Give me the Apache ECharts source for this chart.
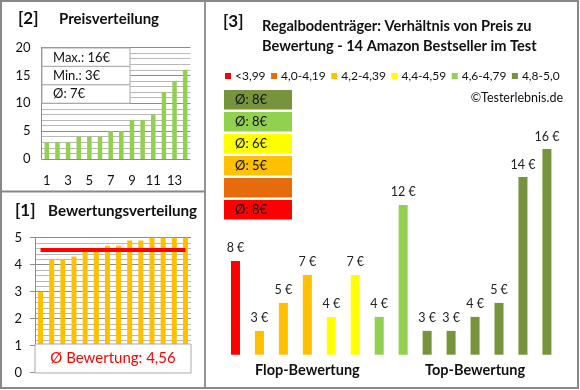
<!DOCTYPE html>
<html><head><meta charset="utf-8">
<script src="https://cdn.jsdelivr.net/npm/echarts@6/dist/echarts.min.js"></script>
<style>html,body{margin:0;padding:0;background:#fff}#c{width:580px;height:390px}</style>
</head><body><div id="c"></div>
<script>
// ---- data ----
const productIdx = ['1','2','3','4','5','6','7','8','9','10','11','12','13','14'];
const pricesSorted = [3,3,3,4,4,4,5,5,7,7,8,12,14,16];
const priceStats = ['Max.: 16€','Min.: 3€','Ø: 7€'];
const ratingsSorted = [3,4.2,4.2,4.3,4.5,4.5,4.7,4.7,4.9,4.9,5,5,5,5];
const avgRating = 4.56;
const avgRatingLabel = 'Ø Bewertung: 4,56';
const bucketNames = ['<3,99','4,0-4,19','4,2-4,39','4,4-4,59','4,6-4,79','4,8-5,0'];
const bucketColors = ['#FF0000','#E46C0A','#FFC000','#FFFF00','#92D050','#77933C'];
const pricesByRating = [8,3,5,7,4,7,4,12,3,3,4,5,14,16];
const bucketOfProduct = [0,2,2,2,3,3,4,4,5,5,5,5,5,5];
const bucketAvgLabels = ['Ø: 8€','','Ø: 5€','Ø: 6€','Ø: 8€','Ø: 8€'];
const groupLabels = ['Flop-Bewertung','Top-Bewertung'];
const title3 = ['Regalbodenträger: Verhältnis von Preis zu','Bewertung - 14 Amazon Bestseller im Test'];

const FONT = 'Lato';
const chart = echarts.init(document.getElementById('c'), null, {renderer:'canvas'});

const series3 = bucketNames.map((name, b) => ({
  name, type:'bar', xAxisIndex:2, yAxisIndex:2, stack:'r', barWidth:9,
  itemStyle:{color:bucketColors[b]},
  label:{show:true, position:'top', distance:6, formatter:'{c} €', fontFamily:FONT, fontSize:12.5, color:'#222'},
  data: pricesByRating.map((p,i) => bucketOfProduct[i] === b ? p : '-')
}));

const graphics = [];
// frames
graphics.push({type:'rect', shape:{x:1,y:1,width:577,height:387}, style:{fill:'none', stroke:'#888', lineWidth:2}, z:200});
graphics.push({type:'line', shape:{x1:205,y1:1,x2:205,y2:388}, style:{stroke:'#888', lineWidth:1.8}, z:200});
graphics.push({type:'line', shape:{x1:1,y1:191.5,x2:205,y2:191.5}, style:{stroke:'#888', lineWidth:1.8}, z:200});
// titles
const tt = (text,x,y,size,extra) => Object.assign({type:'text', x, y, z:150, style:{text, fontFamily:FONT, fontSize:size, fontWeight:'bold', fill:'#111', textVerticalAlign:'middle'}}, extra||{});
graphics.push(tt('[2]',18,19,17));
graphics.push(tt('Preisverteilung',59,19,15));
graphics.push(tt('[1]',15,211,17));
graphics.push(tt('Bewertungsverteilung',48,211,15.2));
graphics.push(tt('[3]',223,22,17));
graphics.push(tt(title3[0],262,26,14.6));
graphics.push(tt(title3[1],262,46,14.6));
graphics.push({type:'text', x:563, y:98, z:150, style:{text:'©Testerlebnis.de', fontFamily:FONT, fontSize:12.5, fill:'#111', textAlign:'right', textVerticalAlign:'middle'}});
// price stats box
priceStats.forEach((s,i) => {
  const y0 = 48 + i*18.4;
  graphics.push({type:'rect', shape:{x:42,y:y0,width:88,height:18.4}, style:{fill:'#fff', stroke:'#aaa', lineWidth:1}, z:120});
  graphics.push({type:'text', x:53, y:y0+9.5, z:121, style:{text:s, fontFamily:FONT, fontSize:13, fill:'#111', textVerticalAlign:'middle'}});
});
// rating average box
graphics.push({type:'rect', shape:{x:35,y:344,width:156,height:29}, style:{fill:'#fff', stroke:'#aaa', lineWidth:1}, z:120});
graphics.push({type:'text', x:113, y:358.5, z:121, style:{text:avgRatingLabel, fontFamily:FONT, fontSize:15, fill:'#FF0000', textAlign:'center', textVerticalAlign:'middle'}});
// bucket average boxes (top = best bucket)
for (let k=0;k<6;k++){
  const b = 5-k;
  const y0 = 90 + k*22;
  graphics.push({type:'rect', shape:{x:224,y:y0,width:68,height:19.5}, style:{fill:bucketColors[b]}, z:110});
  if (bucketAvgLabels[b]) graphics.push({type:'text', x:235, y:y0+10, z:111, style:{text:bucketAvgLabels[b], fontFamily:FONT, fontSize:13, fill:'#111', textVerticalAlign:'middle'}});
}

const option = {
  animation:false,
  textStyle:{fontFamily:FONT},
  legend:{data:bucketNames, left:220, top:65, width:370, padding:[5,0,5,5], icon:'rect', itemWidth:6, itemHeight:6, itemGap:5.5,
    textStyle:{fontFamily:FONT, fontSize:12, color:'#111', padding:[0,0,0,-1]}},
  grid:[
    {left:41.5, top:47.5, width:149, height:111.5},
    {left:35, top:237.7, width:156, height:135},
    {left:223.5, top:135, width:335.4, height:219.7}
  ],
  xAxis:[
    {gridIndex:0, type:'category', data:productIdx, axisLine:{show:false}, axisTick:{show:false},
      axisLabel:{interval:1, margin:15, fontFamily:FONT, fontSize:13, color:'#111'}},
    {gridIndex:1, type:'category', data:productIdx, axisLine:{show:false}, axisTick:{show:false}, axisLabel:{show:false}},
    {gridIndex:2, type:'category', data:productIdx, axisLine:{show:false}, axisTick:{show:false}, axisLabel:{show:false}},
    {gridIndex:2, type:'category', data:groupLabels, position:'bottom', axisLine:{show:false}, axisTick:{show:false},
      axisLabel:{margin:8, fontFamily:FONT, fontSize:14.5, fontWeight:'bold', color:'#111'}}
  ],
  yAxis:[
    {gridIndex:0, type:'value', min:0, max:20, interval:5,
      axisLine:{show:true, lineStyle:{color:'#8c8c8c'}}, axisTick:{show:false},
      axisLabel:{margin:11, fontFamily:FONT, fontSize:13, color:'#111'},
      splitLine:{lineStyle:{color:'#8c8c8c'}},
      minorTick:{show:false, splitNumber:5}, minorSplitLine:{show:true, lineStyle:{color:'#b8b8b8'}}},
    {gridIndex:1, type:'value', min:0, max:5, interval:1,
      axisLine:{show:true, lineStyle:{color:'#8c8c8c'}}, axisTick:{show:true, length:5, lineStyle:{color:'#8c8c8c'}},
      axisLabel:{margin:13, fontFamily:FONT, fontSize:13, color:'#111'},
      splitLine:{lineStyle:{color:'#8c8c8c'}},
      minorTick:{show:false, splitNumber:5}, minorSplitLine:{show:true, lineStyle:{color:'#b8b8b8'}}},
    {gridIndex:2, type:'value', min:1.3, max:17, show:false, splitLine:{show:false}}
  ],
  series:[
    {type:'bar', xAxisIndex:0, yAxisIndex:0, barWidth:4.5, itemStyle:{color:'#92D050'}, data:pricesSorted},
    {type:'bar', xAxisIndex:1, yAxisIndex:1, barWidth:5, itemStyle:{color:'#FFC000'}, data:ratingsSorted,
      markLine:{silent:true, symbol:'none', label:{show:false}, lineStyle:{color:'#FF0000', width:4, type:'solid'},
        data:[[{coord:[0,avgRating]},{coord:[productIdx.length-1,avgRating]}]]}},
    ...series3
  ],
  graphic:graphics
};
chart.setOption(option);
</script></body></html>
